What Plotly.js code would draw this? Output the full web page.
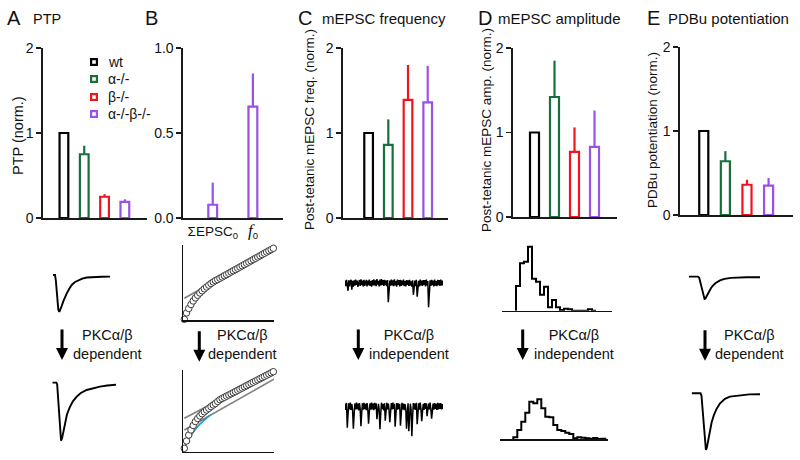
<!DOCTYPE html>
<html><head><meta charset="utf-8">
<script src="https://cdn.plot.ly/plotly-3.0.1.min.js"></script>
<style>html,body{margin:0;padding:0;background:#fff}#chart{width:800px;height:460px}</style>
</head><body><div id="chart"></div>
<script>
const W = 800, H = 460;
const FONT = 'Liberation Sans, Arial, sans-serif';

// ---------- bar data ----------
const genotypes = ['wt', 'α-/-', 'β-/-', 'α-/-β-/-'];
const colors = ['#000000', '#17703c', '#f0141e', '#9b50e6'];
const ptpMean = [1.0, 0.75, 0.25, 0.19];
const ptpErr = [0, 0.10, 0.03, 0.03];
const bCats = ['ΣEPSC<sub>0</sub>', '<span style="font-family:Liberation Serif;font-size:17px"><i>f</i></span><sub>0</sub>'];
const bMean = [0.078, 0.655];
const bErr = [0.13, 0.195];
const freqMean = [1.0, 0.86, 1.39, 1.36];
const freqErr = [0, 0.30, 0.41, 0.43];
const ampMean = [1.0, 1.42, 0.77, 0.83];
const ampErr = [0, 0.43, 0.29, 0.43];
const pdbuMean = [1.0, 0.64, 0.36, 0.35];
const pdbuErr = [0, 0.12, 0.06, 0.09];

// ---------- EPSC traces (time ms, current nA) ----------
const ptpPreT = [0, 0.5, 0.7, 0.9, 1.1, 1.3, 1.55, 1.8, 2.1, 2.5, 3.0, 3.4, 4.0, 4.6, 5.4, 6.2, 7.2, 8.3, 10, 12, 14];
const ptpPreI = [0, 0, -0.15, -0.45, -0.75, -0.93, -1.0, -0.95, -0.85, -0.72, -0.58, -0.49, -0.37, -0.27, -0.19, -0.14, -0.1, -0.07, -0.055, -0.048, -0.045];
const ptpPostT = [0, 1.0, 1.2, 1.4, 1.6, 1.8, 2.0, 2.15, 2.4, 2.7, 3.1, 3.6, 4.35, 5.1, 6.0, 7.0, 8.45, 10, 11.7, 13.5, 15.65];
const ptpPostI = [0, 0, -0.05, -0.4, -0.85, -1.25, -1.5, -1.57, -1.5, -1.32, -1.1, -0.86, -0.65, -0.5, -0.38, -0.28, -0.2, -0.15, -0.11, -0.08, -0.06];
const pdbuPreT = [0, 2.0, 2.3, 2.6, 2.9, 3.2, 3.5, 3.7, 3.9, 4.2, 4.6, 5.0, 5.5, 6.0, 7.0, 8.0, 9.5, 11, 13, 16];
const pdbuPreI = [0, 0, -0.05, -0.3, -0.62, -0.88, -1.0, -0.98, -0.9, -0.78, -0.63, -0.5, -0.38, -0.29, -0.17, -0.1, -0.06, -0.04, -0.03, -0.03];
const pdbuPostT = [0, 2.0, 2.2, 2.5, 2.8, 3.0, 3.2, 3.4, 3.7, 4.0, 4.5, 5.0, 5.6, 6.4, 7.5, 8.6, 10.9, 13, 15.4];
const pdbuPostI = [0, 0, -0.1, -0.8, -1.6, -2.2, -2.54, -2.45, -2.1, -1.75, -1.3, -0.98, -0.7, -0.45, -0.25, -0.15, -0.08, -0.05, -0.04];

// ---------- cumulative EPSC (stimulus #, nA) ----------
const stimN = [0,1,2,3,4,5,6,7,8,9,10,11,12,13,14,15,16,17,18,19,20,21,22,23,24,25,26,27,28,29,30,31,32,33,34,35,36,37,38,39,40];
const cumPre = [0,0.89,1.52,2.08,2.58,3.0,3.38,3.70,4.01,4.30,4.55,4.80,5.04,5.25,5.45,5.60,5.78,5.95,6.13,6.30,6.48,6.66,6.83,7.01,7.18,7.36,7.54,7.71,7.89,8.06,8.24,8.42,8.59,8.77,8.94,9.12,9.30,9.47,9.65,9.82,10.0];
const fitPreN = [0, 40];
const fitPreY = [2.96, 10.0];
const cumPost = [0,1.03,1.87,2.58,3.21,3.77,4.20,4.55,4.86,5.14,5.39,5.63,5.87,6.10,6.31,6.59,6.85,7.02,7.18,7.35,7.51,7.67,7.84,8.0,8.17,8.33,8.49,8.66,8.82,8.99,9.15,9.31,9.48,9.64,9.81,9.97,10.13,10.30,10.46,10.63,10.79];
const fitPostN = [0, 40];
const fitPostY = [4.23, 10.79];
const fitRefN = [0, 41];
const fitRefY = [2.58, 9.86];
const cumRefN = [0,1,2,3,4,5,6,7,8,9,10,11,12];
const cumRef = [0,0.75,1.36,1.88,2.33,2.72,3.07,3.40,3.70,3.99,4.27,4.53,4.71];

// ---------- mEPSC recordings (pA per sample) ----------
const miniPre = [2.8,-2.9,3.4,-1.8,-7.5,3.1,-3.2,1.6,3.6,-6.4,
 2.5,-3.3,3.0,-2.4,3.7,-1.5,2.6,-3.5,1.9,3.3,
 -2.7,3.9,-1.9,2.8,-3.2,3.5,-2.5,1.4,3.4,-3.0,
 2.7,-1.8,3.8,-2.6,2.2,-3.4,3.1,-2.0,4.0,-2.2,
 3.0,-2.9,4.2,-1.4,2.5,-3.1,3.7,-2.3,4.3,-1.7,
 3.2,-2.7,3.5,-1.9,2.8,-2.9,3.3,-19.0,-7.0,2.7,
 -2.4,3.6,-2.0,3.0,-2.8,3.9,-2.1,2.3,-3.3,3.7,
 -1.6,3.1,-3.0,3.4,-2.5,2.7,-1.9,3.8,-2.8,2.2,
 -3.2,3.3,-1.7,2.9,-2.6,3.5,-2.2,1.9,-3.3,3.0,
 -11.5,-4.2,2.6,-2.9,3.4,-13.5,-5.0,2.5,-3.1,3.7,
 -2.0,2.8,-2.5,3.3,-1.6,3.1,-3.0,3.6,-2.1,2.4,
 -24.0,-9.0,2.9,-2.6,3.5,-1.9,2.6,-3.2,3.8,-2.4,
 2.2,-2.9,3.4,-1.8,3.1,-2.5,3.7,-2.0,2.8,-2.3];
const miniPost = [2.9,-3.2,3.8,-21.0,-7.5,3.4,-2.6,4.0,-3.1,2.5,
 -3.7,-22.0,-8.0,3.2,-2.8,4.1,-2.4,3.0,-3.6,3.7,
 -2.2,-19.5,-6.0,3.5,-3.0,3.9,-2.5,2.8,-3.4,3.6,
 -2.1,-17.0,-5.5,3.3,-2.9,4.2,-2.7,3.1,-3.5,3.8,
 -2.3,3.4,-12.5,-4.5,2.9,-3.1,-22.5,-7.5,4.0,-2.4,
 2.7,-3.6,3.5,-14.0,-5.0,3.8,-2.6,3.1,-3.3,-15.5,
 -5.5,3.6,-2.8,4.1,-2.2,2.9,-20.0,-6.5,3.7,-3.0,
 3.4,-2.5,2.8,-19.0,-6.0,3.9,-2.7,3.2,-3.4,2.6,
 -2.3,-22.0,-7.0,3.5,-24.5,-8.0,3.0,-2.8,-29.5,-9.5,
 3.6,-2.6,3.1,-3.2,3.8,-17.5,-5.5,3.3,-2.9,4.0,
 -2.4,-14.5,-5.0,2.8,-3.3,3.7,-2.2,3.4,-9.5,-4.0,
 3.0,-2.7,4.1,-2.5,-12.0,-4.5,3.2,-3.0,3.6,-2.3,
 2.9,-3.2,3.8,-2.6,3.3,-2.1,3.5,-2.8,2.7,-2.4];

// ---------- mEPSC amplitude histograms ----------
const histPreEdges = [14.3,18.3,22.3,26.3,30.3,34.3,38.3,42.3,46.3,50.3,54.3,58.3,62.3,66.3,70.3,74.3,78.3,82.3,86.3,90.3,94.3];
const histPreCounts = [12.3,23.7,24.5,32,16,14.5,8,12,1.7,5.3,1.7,0.4,1,0.7,0,0,0,0,0.7,0];
const histPostEdges = [13.3,17.3,21.3,25.3,29.3,33.3,37.3,41.3,45.3,49.3,53.3,57.3,61.3,65.3,69.3,73.3,77.3,81.3,85.3,89.3,93.3,97.3,101.3,105.3];
const histPostCounts = [1,4.7,8.8,13.3,18.8,18,20,15.5,11.3,11,7.2,4.7,4.2,3.3,2.7,0.5,1,0.8,0.5,0.3,0.6,0.2,0.3];

// ---------- helpers ----------
const xd = (a, b) => [a / W, b / W];
const yd = (top, bottom) => [1 - bottom / H, 1 - top / H];
const ax = i => (i === 1 ? '' : String(i));

const layout = {
  width: W, height: H,
  margin: {l: 0, r: 0, t: 0, b: 0},
  paper_bgcolor: '#fff', plot_bgcolor: 'rgba(0,0,0,0)',
  font: {family: FONT, color: '#111', size: 13},
  showlegend: false,
  annotations: [], shapes: []
};

function barAxes(i, xdom, ydom, xrange, yrange, cats, tickvals, ticktext, showX) {
  layout['xaxis' + ax(i)] = {domain: xdom, range: xrange, type: 'category', categoryorder: 'array', categoryarray: cats,
    showline: true, linecolor: '#1a1a1a', linewidth: 1.6, ticks: '', showticklabels: !!showX,
    tickfont: {size: 13.5, family: FONT}, showgrid: false, zeroline: false, anchor: 'y' + ax(i), fixedrange: true};
  layout['yaxis' + ax(i)] = {domain: ydom, range: yrange, tickvals: tickvals, ticktext: ticktext,
    ticks: 'outside', ticklen: 5, tickwidth: 1.6, tickcolor: '#1a1a1a', showline: true, linecolor: '#1a1a1a',
    linewidth: 1.6, showgrid: false, zeroline: false, tickfont: {size: 14, family: FONT},
    anchor: 'x' + ax(i), fixedrange: true};
}
function insetAxes(i, xdom, ydom, xrange, yrange, showX, showY) {
  layout['xaxis' + ax(i)] = {domain: xdom, range: xrange, visible: !!showX, showline: !!showX, linecolor: '#111',
    linewidth: showX === 2 ? 1.2 : 1.6, ticks: '', showticklabels: false, showgrid: false, zeroline: false,
    anchor: 'y' + ax(i), fixedrange: true};
  layout['yaxis' + ax(i)] = {domain: ydom, range: yrange, visible: !!showY, showline: !!showY, linecolor: '#111',
    linewidth: 1.6, ticks: '', showticklabels: false, showgrid: false, zeroline: false,
    anchor: 'x' + ax(i), fixedrange: true};
}

barAxes(1, xd(43, 147), yd(48, 218), [-1.03, 4.09], [0, 2], genotypes, [0, 1, 2], ['0', '1', '2']);
barAxes(2, xd(183, 283), yd(48, 218), [-0.74, 1.75], [0, 1], bCats, [0, 0.5, 1], ['0.0', '0.5', '1.0'], true);
barAxes(3, xd(343, 448), yd(48, 218), [-1.30, 4.03], [0, 2], genotypes, [0, 1, 2], ['0', '1', '2']);
barAxes(4, xd(513, 617), yd(48, 217), [-1.075, 4.125], [0, 2], genotypes, [0, 1, 2], ['0', '1', '2']);
barAxes(5, xd(680, 793), yd(47, 215), [-1.10, 4.13], [0, 2], genotypes, [0, 1, 2], ['0', '1', '2']);
layout.xaxis2.ticklabelstandoff = 0;

insetAxes(6, xd(53, 110), yd(262, 322), [0, 14], [-1.27, 0.35]);
insetAxes(7, xd(52.3, 116), yd(370, 450), [0, 15.65], [-1.82, 0.34]);
insetAxes(8, xd(183.3, 274), yd(245, 320), [-0.45, 40.3], [-0.1, 10.46], true, true);
insetAxes(9, xd(183.3, 274), yd(369.7, 451.7), [-0.45, 40.3], [-0.48, 11.07], true, true);
insetAxes(10, xd(345, 443), yd(270, 312), [0, 129], [-28.7, 13.3]);
insetAxes(11, xd(345, 443), yd(395, 442), [0, 129], [-35.3, 11.7]);
insetAxes(12, xd(501.7, 611.7), yd(240, 310.7), [0, 110], [0, 35.35], 2);
insetAxes(13, xd(500, 608), yd(390, 439.3), [0, 108], [0, 24.65], 2);
insetAxes(14, xd(689, 760), yd(265, 308), [0, 16], [-1.41, 0.52]);
insetAxes(15, xd(691.7, 760), yd(382, 460), [0, 15.4], [-2.99, 0.507]);

const traces = [];
function barSet(i, means, errs, widthU) {
  genotypes.forEach((g, k) => {
    traces.push({type: 'bar', x: [g], y: [means[k]], width: widthU, name: g,
      xaxis: 'x' + ax(i), yaxis: 'y' + ax(i), showlegend: false, cliponaxis: false,
      marker: {color: '#ffffff', line: {color: colors[k], width: 2.2}},
      error_y: {type: 'data', symmetric: false, array: [errs[k]], arrayminus: [0], width: 0, thickness: 2.2, color: colors[k], visible: errs[k] > 0},
      hoverinfo: 'skip'});
  });
}
barSet(1, ptpMean, ptpErr, 0.43);
traces.push({type: 'bar', x: bCats, y: bMean, width: 0.22, xaxis: 'x2', yaxis: 'y2', showlegend: false, cliponaxis: false,
  marker: {color: '#ffffff', line: {color: colors[3], width: 2.2}},
  error_y: {type: 'data', symmetric: false, array: bErr, arrayminus: [0, 0], width: 0, thickness: 2.2, color: colors[3]}});
barSet(3, freqMean, freqErr, 0.44);
barSet(4, ampMean, ampErr, 0.45);
barSet(5, pdbuMean, pdbuErr, 0.42);

function line(i, x, y, color, width, extra) {
  const t = Object.assign({type: 'scatter', mode: 'lines', y: y, xaxis: 'x' + ax(i), yaxis: 'y' + ax(i),
    showlegend: false, cliponaxis: false, line: {color: color, width: width}, hoverinfo: 'skip'}, extra || {});
  if (x) t.x = x;
  traces.push(t);
}
// A: EPSCs
line(6, ptpPreT, ptpPreI, '#000', 1.9);
line(7, ptpPostT, ptpPostI, '#000', 1.9);
// B: cumulative plots
line(8, fitPreN, fitPreY, '#808080', 1.6);
traces.push({type: 'scatter', mode: 'markers', x: stimN, y: cumPre, xaxis: 'x8', yaxis: 'y8', showlegend: false, cliponaxis: false,
  marker: {symbol: 'circle', size: 6.5, color: '#fff', line: {color: '#3a3a3a', width: 1}}, hoverinfo: 'skip'});
line(9, fitRefN, fitRefY, '#808080', 1.6);
line(9, fitPostN, fitPostY, '#808080', 1.6);
line(9, cumRefN, cumRef, '#1e96d2', 1.6);
traces.push({type: 'scatter', mode: 'markers', x: stimN, y: cumPost, xaxis: 'x9', yaxis: 'y9', showlegend: false, cliponaxis: false,
  marker: {symbol: 'circle', size: 6.5, color: '#fff', line: {color: '#3a3a3a', width: 1}}, hoverinfo: 'skip'});
// C: mEPSC recordings
line(10, null, miniPre, '#000', 1.5);
line(11, null, miniPost, '#000', 1.5);
// D: histograms
function histOutline(edges, counts) {
  const xs = [edges[0]], ys = [0];
  counts.forEach((c, k) => { xs.push(edges[k]); ys.push(c); });
  xs.push(edges[edges.length - 1]); ys.push(0);
  return [xs, ys];
}
const hPre = histOutline(histPreEdges, histPreCounts);
const hPost = histOutline(histPostEdges, histPostCounts);
line(12, hPre[0], hPre[1], '#000', 2, {line: {color: '#000', width: 2, shape: 'hv'}});
line(13, hPost[0], hPost[1], '#000', 2, {line: {color: '#000', width: 2, shape: 'hv'}});
// E: EPSCs
line(14, pdbuPreT, pdbuPreI, '#000', 1.9);
line(15, pdbuPostT, pdbuPostI, '#000', 1.9);

// ---------- text ----------
function txt(text, x, y, size, opts) {
  layout.annotations.push(Object.assign({text: text, x: x / W, y: 1 - y / H, xref: 'paper', yref: 'paper',
    showarrow: false, xanchor: 'left', yanchor: 'middle', font: {size: size, family: FONT, color: '#111'}}, opts || {}));
}
[['A', 5], ['B', 143], ['C', 296], ['D', 476], ['E', 645]].forEach(p => txt(p[0], p[1], 18, 20));
txt('PTP', 31, 19, 14.5);
txt('mEPSC frequency', 320, 19, 15);
txt('mEPSC amplitude', 496, 19, 15);
txt('PDBu potentiation', 666, 19, 15);
txt('PTP (norm.)', 18, 136, 14.5, {textangle: -90, xanchor: 'center'});
txt('Post-tetanic mEPSC freq. (norm.)', 310, 130, 13.5, {textangle: -90, xanchor: 'center'});
txt('Post-tetanic mEPSC amp. (norm.)', 487, 130, 13.5, {textangle: -90, xanchor: 'center'});
txt('PDBu potentiation (norm.)', 653, 130, 13.5, {textangle: -90, xanchor: 'center'});

// legend (genotype key)
const legendRows = [62, 79.5, 97, 114];
genotypes.forEach((g, k) => {
  layout.annotations.push({text: '\u00a0', x: 94 / W, y: 1 - legendRows[k] / H, xref: 'paper', yref: 'paper',
    showarrow: false, xanchor: 'center', yanchor: 'middle', width: 4, height: 4, borderpad: 0,
    bordercolor: colors[k], borderwidth: 2.2, bgcolor: '#fff', font: {size: 2}});
  txt(g, 106, legendRows[k], 14);
});

const arrows = [[62, 360, 'dependent', 107], [199.3, 361.7, 'dependent', 242.5],
  [358.3, 360, 'independent', 408.5], [522.7, 360, 'independent', 573.5], [705, 360.7, 'dependent', 749.5]];
arrows.forEach(a => {
  layout.annotations.push({text: '', x: a[0] / W, y: 1 - a[1] / H, xref: 'paper', yref: 'paper', showarrow: true,
    ax: 0, ay: -32, arrowhead: 2, arrowsize: 0.8, arrowwidth: 3, arrowcolor: '#000', standoff: 0, startstandoff: 0});
  txt('PKCα/β<br>' + a[2], a[3], 344.8, 14.5, {xanchor: 'center', align: 'center'});
});

Plotly.newPlot('chart', traces, layout, {staticPlot: true, displayModeBar: false});
</script>
</body></html>
